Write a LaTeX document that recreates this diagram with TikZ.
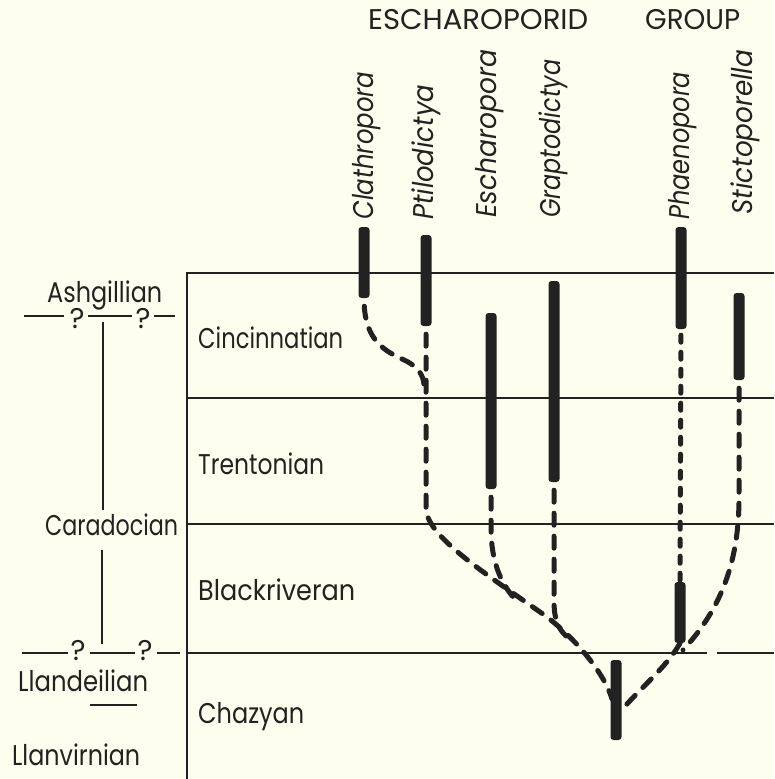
\documentclass[tikz,border=0pt]{standalone}
\usepackage{fontspec}
\setmainfont{Poppins}
\usepackage{graphicx}
\definecolor{paper}{RGB}{254,254,238}
\definecolor{ink}{RGB}{34,34,34}
\newcommand\fw[2]{\resizebox{#1}{\height}{#2}}
\begin{document}
\begin{tikzpicture}[x=1pt,y=-1pt,
  taxonbar/.style={fill=ink, rounded corners=3pt, minimum width=11pt, inner sep=0pt},
  lineagedash/.style={draw=ink, line width=5pt, line cap=round, dash pattern=on 12pt off 11pt, dash phase=15pt},
  shortdash/.style={draw=ink, line width=5pt, line cap=round, dash pattern=on 7pt off 10pt, dash phase=11pt},
  framerule/.style={draw=ink, line width=1.6pt},
  thinrule/.style={draw=ink, line width=1.3pt},
  lbl/.style={inner sep=0pt, anchor=base west, text=ink, font=\fontsize{28.5}{32}\selectfont},
  genus/.style={inner sep=0pt, rotate=90, anchor=west, text=ink, font=\fontsize{28.5}{32}\selectfont\itshape}]
\useasboundingbox[fill=paper] (0,0) rectangle (774,779);

% frame
\draw[framerule] (187,272) -- (187,779);
\draw[framerule] (187,273) -- (774,273);
\draw[framerule] (187,398) -- (774,398);
\draw[framerule] (187,524) -- (774,524);
\draw[framerule] (187,653) -- (707,653);
\draw[framerule] (717,653) -- (774,653);

% header
\node[lbl] (hdr1) at (368,30) {\fw{220pt}{ESCHAROPORID}};
\node[lbl] (hdr2) at (645,30) {\fw{95pt}{GROUP}};

% genus labels
\node[genus] (tclath) at (367,220) {\fw{148pt}{Clathropora}};
\node[genus] (tptilo) at (426,220) {\fw{135pt}{Ptilodictya}};
\node[genus] (tesch) at (490,218) {\fw{168pt}{Escharopora}};
\node[genus] (tgrapt) at (553,218) {\fw{158pt}{Graptodictya}};
\node[genus] (tphaen) at (683,220) {\fw{148pt}{Phaenopora}};
\node[genus] (tstict) at (745,215) {\fw{165pt}{Stictoporella}};

% stage labels
\node[lbl] (cin) at (198,348) {\fw{145pt}{Cincinnatian}};
\node[lbl] (tre) at (198,474) {\fw{126pt}{Trentonian}};
\node[lbl] (bla) at (198,600) {\fw{157pt}{Blackriveran}};
\node[lbl] (cha) at (198,723) {\fw{106pt}{Chazyan}};

% series labels
\node[lbl] (ash) at (47,302) {\fw{115pt}{Ashgillian}};
\node[lbl] (car) at (45,535) {\fw{133pt}{Caradocian}};
\node[lbl] (lla) at (18,691) {\fw{130pt}{Llandeilian}};
\node[lbl] (llv) at (12,765) {\fw{128pt}{Llanvirnian}};

% question marks and boundaries
\node[lbl, anchor=base] (q1) at (77,328) {?};
\node[lbl, anchor=base] (q2) at (143,328) {?};
\node[lbl, anchor=base] (q3) at (78,660) {?};
\node[lbl, anchor=base] (q4) at (145,660) {?};
\draw[thinrule] (24,316) -- (64,316) (88,316) -- (132,316) (154,316) -- (175,316);
\draw[thinrule] (22,653) -- (68,653) (90,653) -- (135,653) (157,653) -- (180,653);
\draw[thinrule] (103,322) -- (103,510);
\draw[thinrule] (102,550) -- (102,644);
\draw[thinrule] (90,705) -- (137,705);

% taxon bars
\node[taxonbar, minimum height=71pt] (clath) at (364,262.5) {};
\node[taxonbar, minimum height=91pt] (ptilo) at (426,280.5) {};
\node[taxonbar, minimum height=176pt] (esch) at (491,401) {};
\node[taxonbar, minimum height=201pt] (grapt) at (554,381.5) {};
\node[taxonbar, minimum height=102pt] (phaen) at (681,278) {};
\node[taxonbar, minimum height=61pt] (phaen2) at (680,612.5) {};
\node[taxonbar, minimum height=87pt] (stict) at (739,336.5) {};
\node[taxonbar, minimum height=80pt] (chaz) at (616,700) {};

% junction coordinates
\coordinate (jc) at (424,386);
\coordinate (je) at (514,598);
\coordinate (jg) at (566,636);
\coordinate (jp) at (683,650);
\coordinate (jz1) at (612,699);
\coordinate (jz2) at (620,712);

% lineages
\draw[lineagedash] (clath.south) .. controls +(0,38) and +(-22,-10) .. (402,359) .. controls +(14,6) and +(0,-12) .. (jc);
\draw[lineagedash] (ptilo.south) -- (426,508) .. controls (426,535) and (480,570) .. (540,612) .. controls (572,634) and (604,672) .. (jz1);
\draw[lineagedash] (esch.south) -- (491,528) .. controls (491,560) and (500,582) .. (je);
\draw[lineagedash] (grapt.south) -- (554,600) .. controls (554,620) and (558,628) .. (jg);
\draw[shortdash] (phaen.south) -- (phaen2.north);
\draw[lineagedash] (stict.south) -- (739,498) .. controls (739,560) and (722,608) .. (jp);
\draw[lineagedash, dash phase=0pt] (phaen2.south) .. controls (666,668) and (640,688) .. (jz2);
\end{tikzpicture}
\end{document}
